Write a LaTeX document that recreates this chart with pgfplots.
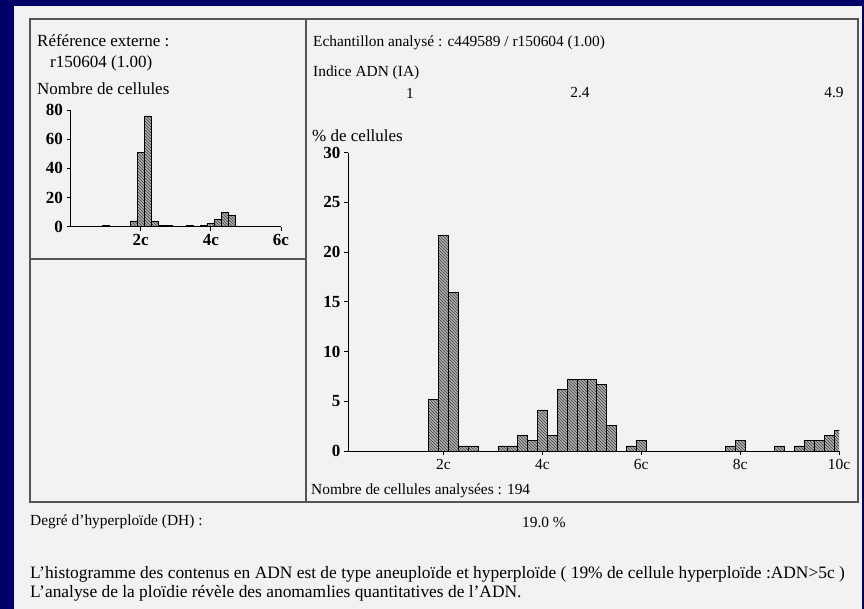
\documentclass[border=0pt]{standalone}
\usepackage{fontspec}
\setmainfont{Liberation Serif}
\usepackage{pgfplots}
\usepackage{pgfplotstable}
\pgfplotsset{compat=1.18}
\usetikzlibrary{patterns}
\definecolor{navy}{RGB}{0,0,102}
\definecolor{paper}{RGB}{242,242,242}
\definecolor{boxline}{RGB}{85,85,85}
\definecolor{barfill}{RGB}{175,175,175}

% main histogram: % of 194 cells, bins of 0.2c
\pgfplotstableread{
x y
1.8 5.155
2.0 21.649
2.2 15.979
2.4 0.515
2.6 0.515
3.2 0.515
3.4 0.515
3.6 1.546
3.8 1.031
4.0 4.124
4.2 1.546
4.4 6.186
4.6 7.216
4.8 7.216
5.0 7.216
5.2 6.701
5.4 2.577
5.8 0.515
6.0 1.031
7.8 0.515
8.0 1.031
8.8 0.515
9.2 0.515
9.4 1.031
9.6 1.031
9.8 1.546
10.0 2.062
}\maintable

% reference histogram: number of cells
\pgfplotstableread{
x y
1.0 1
1.8 4
2.0 51
2.2 76
2.4 4
2.6 1
2.8 1
3.4 1
3.8 1
4.0 2
4.2 5
4.4 10
4.6 8
}\reftable

\newcommand{\txtL}{\fontsize{17}{19}\selectfont}
\newcommand{\txtR}{\fontsize{15.4}{17}\selectfont}
\newcommand{\txtB}{\fontsize{17.4}{19}\selectfont}
\newcommand{\ytl}{\fontsize{17}{17}\selectfont\bfseries}

\begin{document}
\begin{tikzpicture}[x=1pt,y=1pt]
\fill[navy] (0,0) rectangle (864,609);
\fill[paper] (14,0) rectangle (862,603);
\draw[boxline, line width=1.3pt] (30,107) rectangle (858,590);
\draw[boxline, line width=1.3pt] (306,107) -- (306,590);
\draw[boxline, line width=1.3pt] (30,350) -- (306,350);

% left panel texts
\node[anchor=west, inner sep=0] at (37,568) {\txtL Référence externe :};
\node[anchor=west, inner sep=0] at (50,546) {\txtL r150604 (1.00)};
\node[anchor=west, inner sep=0] at (37,520) {\txtL Nombre de cellules};

% right panel texts
\node[anchor=west, inner sep=0] at (313,566) {\txtR Echantillon analysé : c449589 / r150604 (1.00)};
\node[anchor=west, inner sep=0] at (313,536) {\txtR Indice ADN (IA)};
\node[inner sep=0] at (410,516) {\txtR 1};
\node[inner sep=0] at (580,516) {\txtR 2.4};
\node[inner sep=0] at (834,516) {\txtR 4.9};
\node[anchor=west, inner sep=0] at (312,473) {\txtL \% de cellules};
\node[anchor=west, inner sep=0] at (311,118) {\txtR Nombre de cellules analysées : 194};

% bottom texts
\node[anchor=west, inner sep=0] at (30,87) {\txtR Degré d'hyperploïde (DH) :};
\node[inner sep=0] at (544,87) {\txtR 19.0 \%};
\node[anchor=west, inner sep=0] at (30,35) {\txtB L'histogramme des contenus en ADN est de type aneuploïde et hyperploïde ( 19\% de cellule hyperploïde :ADN>5c )};
\node[anchor=west, inner sep=0] at (30,16) {\txtB L'analyse de la ploïdie révèle des anomamlies quantitatives de l'ADN.};

% main histogram
\begin{axis}[
  at={(348pt,158pt)}, anchor=south west,
  scale only axis, width=491pt, height=298.3pt,
  xmin=0.07, xmax=10, ymin=0, ymax=30,
  axis lines*=left,
  axis line style={black, line width=0.8pt},
  tick align=outside, major tick length=4pt,
  tick style={black, line width=0.7pt},
  xtick={2,4,6,8,10}, xticklabels={2c,4c,6c,8c,10c},
  ytick={0,5,10,15,20,25,30},
  /pgf/number format/assume math mode=true,
  xticklabel style={font=\txtR, yshift=-1pt},
  yticklabel style={font=\ytl},
  clip=true,
]
\addplot[ybar, bar width=0.2, draw=black, line width=0.6pt, fill=barfill,
  postaction={pattern=north west lines, pattern color=black!75}]
  table[x=x, y=y] {\maintable};
\end{axis}

% reference histogram
\begin{axis}[
  at={(70.5pt,382.3pt)}, anchor=south west,
  scale only axis, width=210.5pt, height=116.7pt,
  xmin=0, xmax=6, ymin=0, ymax=80,
  axis lines*=left,
  axis line style={black, line width=0.8pt},
  tick align=outside, major tick length=4pt,
  tick style={black, line width=0.7pt},
  xtick={2,4,6}, xticklabels={2c,4c,6c},
  ytick={0,20,40,60,80},
  /pgf/number format/assume math mode=true,
  xticklabel style={font=\ytl},
  yticklabel style={font=\ytl},
]
\addplot[ybar, bar width=0.2, draw=black, line width=0.6pt, fill=barfill,
  postaction={pattern=north west lines, pattern color=black!75}]
  table[x=x, y=y] {\reftable};
\end{axis}
\end{tikzpicture}
\end{document}
